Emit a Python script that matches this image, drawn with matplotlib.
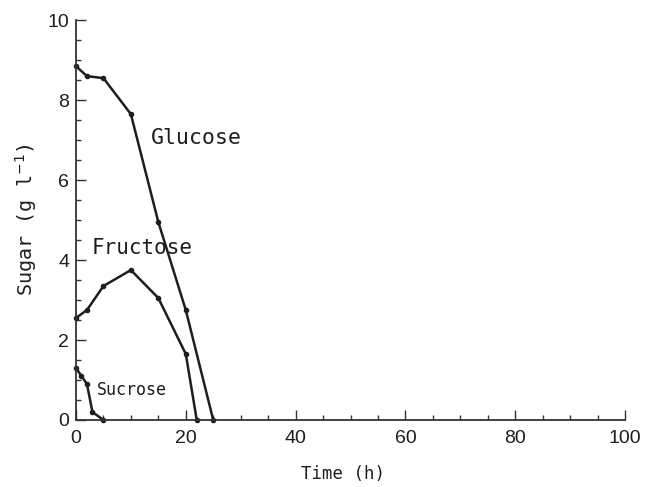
import matplotlib.pyplot as plt
from matplotlib.ticker import MultipleLocator

# values
glucose_t = [0, 2, 5, 10, 15, 20, 25]
glucose = [8.85, 8.6, 8.55, 7.65, 4.95, 2.75, 0.0]

fructose_t = [0, 2, 5, 10, 15, 20, 22]
fructose = [2.55, 2.75, 3.35, 3.75, 3.05, 1.65, 0.0]

sucrose_t = [0, 1, 2, 3, 5]
sucrose = [1.3, 1.1, 0.9, 0.2, 0.0]

mono = "DejaVu Sans Mono"
ink = "#1e1e1e"

fig = plt.figure(figsize=(6.46, 4.87), dpi=100)
ax = fig.add_axes([0.1176, 0.1376, 0.85, 0.821])

for t, y in [(glucose_t, glucose), (fructose_t, fructose), (sucrose_t, sucrose)]:
    ax.plot(t, y, color=ink, lw=1.8, marker="o", ms=3, clip_on=False)

ax.text(13.6, 6.9, "Glucose", family=mono, fontsize=15.5, color=ink)
ax.text(2.8, 4.15, "Fructose", family=mono, fontsize=15, color=ink)
ax.text(3.8, 0.62, "Sucrose", family=mono, fontsize=12, color=ink)

ax.set_xlim(0, 100)
ax.set_ylim(0, 10)
ax.xaxis.set_major_locator(MultipleLocator(20))
ax.xaxis.set_minor_locator(MultipleLocator(5))
ax.yaxis.set_major_locator(MultipleLocator(2))
ax.yaxis.set_minor_locator(MultipleLocator(0.5))
ax.tick_params(which="both", direction="in", color="#333333", width=1)
ax.tick_params(which="major", length=7)
ax.tick_params(which="minor", length=3.5)
ax.tick_params(axis="y", pad=5)
ax.tick_params(axis="x", pad=7)
for lab in ax.get_xticklabels() + ax.get_yticklabels():
    lab.set_family("Liberation Sans")
    lab.set_fontsize(14)
    lab.set_color(ink)

for s in ["top", "right"]:
    ax.spines[s].set_visible(False)
for s in ["left", "bottom"]:
    ax.spines[s].set_color("#333333")
    ax.spines[s].set_linewidth(1.3)

ax.set_xlabel("Time (h)", family=mono, fontsize=12.5, color=ink)
ax.xaxis.set_label_coords(0.487, -0.112)
ax.set_ylabel("Sugar (g l$^{-1}$)", family=mono, fontsize=14.5, color=ink, labelpad=6)

fig.savefig("out.png", dpi=100)
